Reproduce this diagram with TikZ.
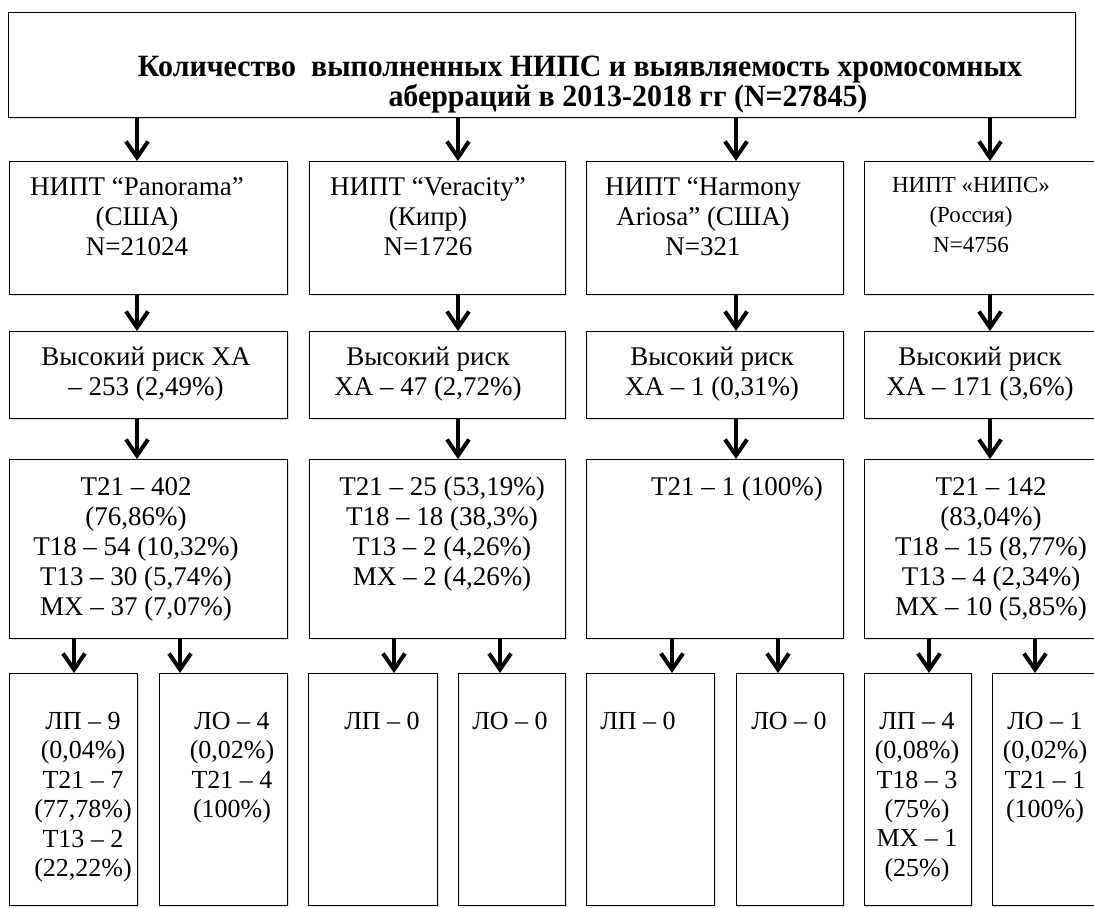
\documentclass[tikz,border=0pt]{standalone}
\usepackage{fontspec}
\setmainfont{Liberation Serif}
\newfontfamily\ttlfont[FakeStretch=0.965]{Liberation Serif}
\usetikzlibrary{arrows.meta,positioning,shadows}
\tikzset{
    boxsty/.style={draw,fill=white,rectangle,line width=1.3pt,inner sep=0pt,anchor=north west,
      drop shadow={shadow xshift=1.5pt,shadow yshift=-1.5pt,opacity=0.25,fill=gray}},
    txtsty/.style={align=center,inner sep=0pt,anchor=north,font=\fontsize{27}{30}\selectfont},
    smtxtsty/.style={txtsty,font=\fontsize{23}{30}\selectfont},
    lowtxtsty/.style={txtsty,font=\fontsize{26}{29.4}\selectfont},
    ttlsty/.style={txtsty,font=\ttlfont\bfseries\fontsize{31}{27}\selectfont},
    arrsty/.style={line width=4pt,-{Straight Barb[length=16pt,width=22pt]}},
}
\begin{document}
\begin{tikzpicture}[x=1pt,y=-1pt]
\clip (0,0) rectangle (1094,907);

% title
\node[boxsty,minimum width=1067pt,minimum height=105pt] (title) at (8,12) {};
\node[ttlsty] (title-t) at (580,56) {Количество~ выполненных НИПС и выявляемость хромосомных\\\hspace*{96pt}аберраций в 2013-2018 гг (N=27845)};

% tests
\node[boxsty,minimum width=278pt,minimum height=133pt] (pan) at (9,161) {};
\node[boxsty,minimum width=256pt,minimum height=133pt] (ver) at (309,161) {};
\node[boxsty,minimum width=257pt,minimum height=133pt] (har) at (586,161) {};
\node[boxsty,minimum width=240pt,minimum height=133pt] (nips) at (864,161) {};
\node[txtsty] (pan-t) at (137,177) {НИПТ “Panorama”\\(США)\\N=21024};
\node[txtsty] (ver-t) at (428,177) {НИПТ “Veracity”\\(Кипр)\\N=1726};
\node[txtsty] (har-t) at (703,177) {НИПТ “Harmony\\Ariosa” (США)\\N=321};
\node[smtxtsty] (nips-t) at (971,177) {НИПТ «НИПС»\\(Россия)\\N=4756};

% high risk
\node[boxsty,minimum width=278pt,minimum height=87pt] (panrisk) at (9,331) {};
\node[boxsty,minimum width=256pt,minimum height=87pt] (verrisk) at (309,331) {};
\node[boxsty,minimum width=257pt,minimum height=87pt] (harrisk) at (586,331) {};
\node[boxsty,minimum width=240pt,minimum height=87pt] (nipsrisk) at (864,331) {};
\node[txtsty] (panrisk-t) at (146,347) {Высокий риск ХА\\– 253 (2,49\%)};
\node[txtsty] (verrisk-t) at (428,347) {Высокий риск\\ХА – 47 (2,72\%)};
\node[txtsty] (harrisk-t) at (712,347) {Высокий риск\\ХА – 1 (0,31\%)};
\node[txtsty] (nipsrisk-t) at (980,347) {Высокий риск\\ХА – 171 (3,6\%)};

% aberrations
\node[boxsty,minimum width=278pt,minimum height=179pt] (panres) at (9,459) {};
\node[boxsty,minimum width=256pt,minimum height=179pt] (verres) at (309,459) {};
\node[boxsty,minimum width=257pt,minimum height=179pt] (harres) at (586,459) {};
\node[boxsty,minimum width=240pt,minimum height=179pt] (nipsres) at (864,459) {};
\node[txtsty] (panres-t) at (136,477) {Т21 – 402\\(76,86\%)\\Т18 – 54 (10,32\%)\\Т13 – 30 (5,74\%)\\МХ – 37 (7,07\%)};
\node[txtsty] (verres-t) at (442,477) {Т21 – 25 (53,19\%)\\Т18 – 18 (38,3\%)\\Т13 – 2 (4,26\%)\\МХ – 2 (4,26\%)};
\node[txtsty] (harres-t) at (737,477) {Т21 – 1 (100\%)};
\node[txtsty] (nipsres-t) at (991,477) {Т21 – 142\\(83,04\%)\\Т18 – 15 (8,77\%)\\Т13 – 4 (2,34\%)\\МХ – 10 (5,85\%)};

% false results
\node[boxsty,minimum width=128pt,minimum height=232pt] (panlp) at (9,673) {};
\node[boxsty,minimum width=128pt,minimum height=232pt] (panlo) at (159,673) {};
\node[boxsty,minimum width=129pt,minimum height=232pt] (verlp) at (308,673) {};
\node[boxsty,minimum width=107pt,minimum height=232pt] (verlo) at (458,673) {};
\node[boxsty,minimum width=128pt,minimum height=232pt] (harlp) at (586,673) {};
\node[boxsty,minimum width=107pt,minimum height=232pt] (harlo) at (736,673) {};
\node[boxsty,minimum width=107pt,minimum height=232pt] (nipslp) at (864,673) {};
\node[boxsty,minimum width=112pt,minimum height=232pt] (nipslo) at (992,673) {};
\node[lowtxtsty] (panlp-t) at (83,712) {ЛП – 9\\(0,04\%)\\Т21 – 7\\(77,78\%)\\Т13 – 2\\(22,22\%)};
\node[lowtxtsty] (panlo-t) at (232,712) {ЛО – 4\\(0,02\%)\\Т21 – 4\\(100\%)};
\node[lowtxtsty] (verlp-t) at (382,712) {ЛП – 0};
\node[lowtxtsty] (verlo-t) at (510,712) {ЛО – 0};
\node[lowtxtsty] (harlp-t) at (638,712) {ЛП – 0};
\node[lowtxtsty] (harlo-t) at (789,712) {ЛО – 0};
\node[lowtxtsty] (nipslp-t) at (917,712) {ЛП – 4\\(0,08\%)\\Т18 – 3\\(75\%)\\МХ – 1\\(25\%)};
\node[lowtxtsty] (nipslo-t) at (1045,712) {ЛО – 1\\(0,02\%)\\Т21 – 1\\(100\%)};

% arrow columns
\coordinate (c1) at (137,0);
\coordinate (c2) at (458,0);
\coordinate (c3) at (736,0);
\coordinate (c4) at (990,0);
\coordinate (b1) at (74,0);
\coordinate (b2) at (180,0);
\coordinate (b3) at (394,0);
\coordinate (b4) at (500,0);
\coordinate (b5) at (672,0);
\coordinate (b6) at (778,0);
\coordinate (b7) at (929,0);
\coordinate (b8) at (1035,0);

\draw[arrsty] (title.south -| c1) -- (pan.north -| c1);
\draw[arrsty] (title.south -| c2) -- (ver.north -| c2);
\draw[arrsty] (title.south -| c3) -- (har.north -| c3);
\draw[arrsty] (title.south -| c4) -- (nips.north -| c4);

\draw[arrsty] (pan.south -| c1) -- (panrisk.north -| c1);
\draw[arrsty] (ver.south -| c2) -- (verrisk.north -| c2);
\draw[arrsty] (har.south -| c3) -- (harrisk.north -| c3);
\draw[arrsty] (nips.south -| c4) -- (nipsrisk.north -| c4);

\draw[arrsty] (panrisk.south -| c1) -- (panres.north -| c1);
\draw[arrsty] (verrisk.south -| c2) -- (verres.north -| c2);
\draw[arrsty] (harrisk.south -| c3) -- (harres.north -| c3);
\draw[arrsty] (nipsrisk.south -| c4) -- (nipsres.north -| c4);

\draw[arrsty] (panres.south -| b1) -- (panlp.north -| b1);
\draw[arrsty] (panres.south -| b2) -- (panlo.north -| b2);
\draw[arrsty] (verres.south -| b3) -- (verlp.north -| b3);
\draw[arrsty] (verres.south -| b4) -- (verlo.north -| b4);
\draw[arrsty] (harres.south -| b5) -- (harlp.north -| b5);
\draw[arrsty] (harres.south -| b6) -- (harlo.north -| b6);
\draw[arrsty] (nipsres.south -| b7) -- (nipslp.north -| b7);
\draw[arrsty] (nipsres.south -| b8) -- (nipslo.north -| b8);
\end{tikzpicture}
\end{document}
